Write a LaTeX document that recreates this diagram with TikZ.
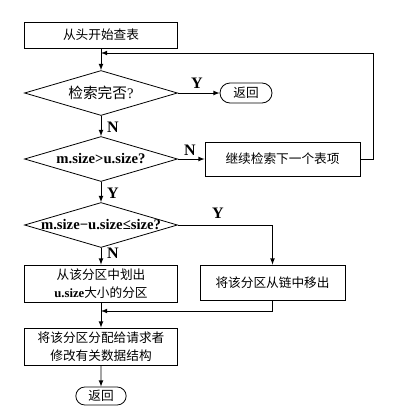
\documentclass[tikz,border=0pt]{standalone}
\usepackage{fontspec}
\setmainfont{Liberation Serif}
\newfontfamily\cjk{Noto Sans CJK SC}
\usetikzlibrary{
    arrows,
    shapes,
    positioning
}

\begin{document}
\begin{tikzpicture}[x=0.75pt, y=-0.75pt,
    box/.style={draw, rectangle, minimum width=114.75pt, minimum height=19.5pt, inner sep=1pt, align=center, font=\cjk\fontsize{9.5}{13.5}\selectfont},
    decision/.style={draw, diamond, aspect=3.4, minimum width=114.75pt, minimum height=33.75pt, inner sep=0pt, font=\bfseries\fontsize{11}{13}\selectfont},
    term/.style={draw, rounded rectangle, minimum width=41pt, minimum height=15pt, inner sep=1pt, font=\cjk\fontsize{9.5}{12}\selectfont},
    yn/.style={font=\bfseries\fontsize{12}{14}\selectfont},
    every path/.style={line width=0.6pt}]
    \useasboundingbox (0,0) rectangle (400,418);

    \node[box] (start) at (101, 35) {从头开始查表};
    \node[decision] (done) at (101, 93) {\mdseries{\cjk 检索完否}?};
    \node[term] (ret1) at (246, 93) {返回};
    \node[decision] (cmp) at (101, 159) {m.size>u.size?};
    \node[box, minimum width=116.25pt, minimum height=25.5pt] (next) at (282.5, 159) {继续检索下一个表项};
    \node[decision] (rest) at (101, 225) {\makebox[0pt]{m.size−u.size≤size?}};
    \node[box, minimum height=27.75pt] (split) at (101, 283.5) {从该分区中划出\\{\rmfamily\bfseries u.size}大小的分区};
    \node[box, minimum width=108.75pt, minimum height=26.25pt] (unlink) at (272.5, 282.5) {将该分区从链中移出};
    \node[box, minimum height=27.75pt] (alloc) at (101, 346.5) {将该分区分配给请求者\\修改有关数据结构};
    \node[term, minimum width=39.75pt, minimum height=13.5pt] (ret2) at (101, 396) {返回};

    \coordinate (top) at (101, 53);
    \coordinate (loop) at (373, 53);
    \coordinate (merge) at (101, 311);

    \node[yn] (y1) at (197, 83) {Y};
    \node[yn] (n1) at (113, 127) {N};
    \node[yn] (n2) at (190, 150) {N};
    \node[yn] (y2) at (113, 193) {Y};
    \node[yn] (y3) at (218, 213) {Y};
    \node[yn] (n3) at (113, 253) {N};

    \draw
    (start) edge[-latex] (done)
    (done) edge[-latex] (ret1)
    (done) edge[-latex] (cmp)
    (cmp) edge[-latex] (next)
    (cmp) edge[-latex] (rest)
    (rest) edge[-latex] (split)
    (split) edge[-latex] (alloc)
    (alloc) edge[-latex] (ret2);
    \draw[-latex] (next.east) -| (loop) -- (top);
    \draw[-latex] (rest.east) -| (unlink.north);
    \draw[-latex] (unlink.south) |- (merge);
\end{tikzpicture}
\end{document}
